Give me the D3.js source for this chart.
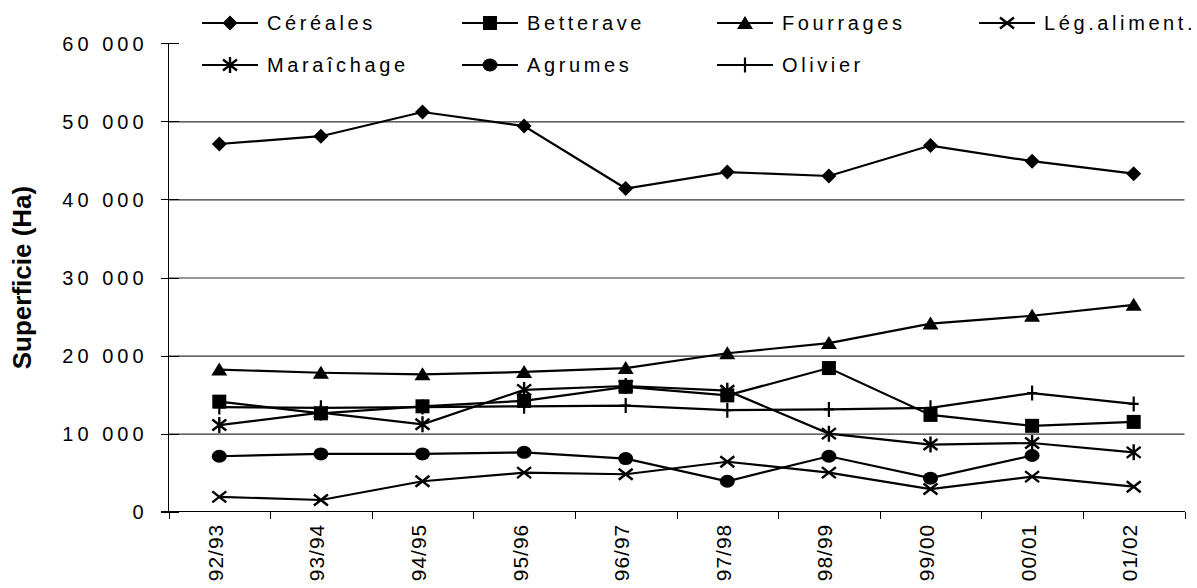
<!DOCTYPE html>
<html>
<head>
    <meta charset="utf-8">
    <script src="https://d3js.org/d3.v7.min.js"></script>
    <style>
        body {
            margin: 0;
            background: #fff;
            font-family: "Liberation Sans", Arial, sans-serif;
        }
        .grid line {
            stroke: #333;
            stroke-width: 1.2px;
        }
        .axis path,
        .axis line {
            stroke: #000;
            stroke-width: 1px;
            shape-rendering: crispEdges;
        }
        .series {
            fill: none;
            stroke: #000;
            stroke-width: 2.2px;
        }
        .ylab {
            font-size: 20px;
            letter-spacing: 4px;
        }
        .xlab {
            font-size: 21px;
            letter-spacing: 1px;
        }
        .leg text {
            font-size: 20px;
            letter-spacing: 3.6px;
        }
    </style>
</head>
<body>
    <svg width="1197" height="588"></svg>
    <script>
        // campaigns
        var campagnes = ["92/93", "93/94", "94/95", "95/96", "96/97", "97/98", "98/99", "99/00", "00/01", "01/02"];

        // surfaces (Ha) per crop
        var cereales = [47100, 48100, 51200, 49400, 41400, 43500, 43000, 46900, 44900, 43300];
        var betterave = [14100, 12600, 13500, 14200, 16000, 14900, 18400, 12400, 11000, 11500];
        var fourrages = [18200, 17800, 17600, 17900, 18400, 20300, 21600, 24100, 25100, 26500];
        var legAliment = [1900, 1500, 3900, 5000, 4800, 6400, 5000, 2900, 4500, 3200];
        var maraichage = [11100, 12700, 11200, 15600, 16100, 15500, 10000, 8600, 8800, 7600];
        var agrumes = [7100, 7400, 7400, 7600, 6800, 3900, 7100, 4300, 7200, null];
        var olivier = [13400, 13300, 13400, 13500, 13600, 13000, 13100, 13300, 15200, 13800];

        var yTicks = [0, 10000, 20000, 30000, 40000, 50000, 60000];

        var series = [
            { name: "Céréales", values: cereales, marker: "diamond" },
            { name: "Betterave", values: betterave, marker: "square" },
            { name: "Fourrages", values: fourrages, marker: "triangle" },
            { name: "Lég.aliment.", values: legAliment, marker: "x" },
            { name: "Maraîchage", values: maraichage, marker: "star" },
            { name: "Agrumes", values: agrumes, marker: "circle" },
            { name: "Olivier", values: olivier, marker: "plus" }
        ];

        var svg = d3.select("svg"),
            margin = { top: 43.3, left: 168.5 },
            width = 1016,
            height = 468.4;

        var g = svg.append("g")
            .attr("transform", "translate(" + margin.left + "," + margin.top + ")");

        var x = d3.scaleBand().domain(campagnes).range([0, width]).padding(0);
        var xEdge = d3.scaleLinear().domain([0, campagnes.length]).range([0, width]);
        var y = d3.scaleLinear().domain([0, 60000]).range([height, 0]);

        var fmt = function (d) {
            return d3.format(",")(d).replace(/,/g, " ");
        };

        // gridlines
        g.append("g")
            .attr("class", "grid")
            .call(d3.axisLeft(y).tickValues(yTicks.filter(function (d) { return d > 0 && d < 60000; }))
                .tickSize(-width).tickFormat(""))
            .call(function (s) { s.select(".domain").remove(); });

        // y axis
        var yAxis = g.append("g")
            .attr("class", "axis")
            .call(d3.axisLeft(y).tickValues(yTicks).tickSize(8).tickFormat(fmt));
        yAxis.select(".domain").attr("d", "M0," + y(60000) + "V" + y(0));
        yAxis.selectAll(".tick line").attr("x2", 10).attr("x1", -8);
        yAxis.selectAll(".tick text")
            .attr("class", "ylab")
            .attr("x", -21)
            .attr("dy", "0.35em")
            .attr("fill", "#000")
            .style("font-family", "'Liberation Sans', Arial, sans-serif");

        // x axis (ticks at category edges)
        var xAxis = g.append("g")
            .attr("class", "axis")
            .attr("transform", "translate(0," + height + ")")
            .call(d3.axisBottom(xEdge).tickValues(d3.range(campagnes.length + 1)).tickSize(7).tickSizeOuter(0).tickFormat(""));
        xAxis.select(".domain").attr("d", "M-8,0H" + width);

        g.selectAll(".xlab")
            .data(campagnes)
            .enter().append("text")
            .attr("class", "xlab")
            .attr("transform", function (d) {
                return "translate(" + (x(d) + x.bandwidth() / 2 - 4) + "," + (height + 12) + ") rotate(-90)";
            })
            .attr("text-anchor", "end")
            .attr("dy", "0.36em")
            .text(function (d) { return d; });

        // y title
        svg.append("text")
            .attr("transform", "translate(22," + (margin.top + y(30000)) + ") rotate(-90)")
            .attr("text-anchor", "middle")
            .attr("dy", "0.35em")
            .style("font-size", "26px")
            .style("font-weight", "bold")
            .text("Superficie (Ha)");

        function drawMarker(sel, type) {
            if (type === "diamond") {
                sel.append("path").attr("d", "M0,-7.5L7.5,0L0,7.5L-7.5,0Z").attr("fill", "#000");
            } else if (type === "square") {
                sel.append("rect").attr("x", -7).attr("y", -7).attr("width", 14).attr("height", 14).attr("fill", "#000");
            } else if (type === "triangle") {
                sel.append("path").attr("d", "M0,-7L8,6L-8,6Z").attr("fill", "#000");
            } else if (type === "circle") {
                sel.append("ellipse").attr("rx", 7.5).attr("ry", 6.5).attr("fill", "#000");
            } else if (type === "x") {
                sel.append("path").attr("d", "M-7,-5.5L7,5.5M-7,5.5L7,-5.5")
                    .attr("stroke", "#000").attr("stroke-width", 2.4).attr("fill", "none");
            } else if (type === "star") {
                sel.append("path").attr("d", "M-7,-5.5L7,5.5M-7,5.5L7,-5.5M0,-8V8")
                    .attr("stroke", "#000").attr("stroke-width", 2.4).attr("fill", "none");
            } else if (type === "plus") {
                sel.append("path").attr("d", "M-5,0H5M0,-7.5V7.5")
                    .attr("stroke", "#000").attr("stroke-width", 2.2).attr("fill", "none");
            }
        }

        var line = d3.line()
            .defined(function (d) { return d.v !== null; })
            .x(function (d) { return x(d.c) + x.bandwidth() / 2; })
            .y(function (d) { return y(d.v); });

        series.forEach(function (s) {
            var pts = s.values.map(function (v, i) { return { c: campagnes[i], v: v }; });
            g.append("path")
                .datum(pts)
                .attr("class", "series")
                .attr("d", line);
            g.selectAll(null)
                .data(pts.filter(function (d) { return d.v !== null; }))
                .enter().append("g")
                .attr("transform", function (d) {
                    return "translate(" + (x(d.c) + x.bandwidth() / 2) + "," + y(d.v) + ")";
                })
                .each(function () { drawMarker(d3.select(this), s.marker); });
        });

        // legend, two rows of four columns
        var legX = [202, 462, 717, 979],
            legY = [23, 65];
        var leg = svg.selectAll(".leg")
            .data(series)
            .enter().append("g")
            .attr("class", "leg")
            .attr("transform", function (d, i) {
                return "translate(" + legX[i % 4] + "," + legY[Math.floor(i / 4)] + ")";
            });
        leg.append("line")
            .attr("x1", 0).attr("x2", 56)
            .attr("stroke", "#000").attr("stroke-width", 2.2);
        leg.append("g")
            .attr("transform", "translate(28,0)")
            .each(function (d) { drawMarker(d3.select(this), d.marker); });
        leg.append("text")
            .attr("x", 65)
            .attr("dy", "0.36em")
            .text(function (d) { return d.name; });
    </script>
</body>
</html>
